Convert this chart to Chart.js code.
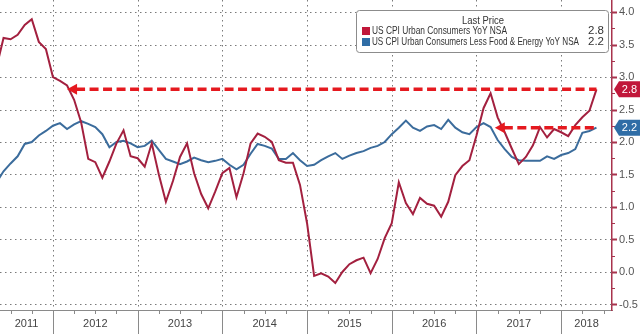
<!DOCTYPE html>
<html lang="en">
<head>
  <meta charset="UTF-8">
  <title>US CPI YoY</title>
  <script src="https://cdn.jsdelivr.net/npm/chart.js"></script>
  <style>
    html, body { margin: 0; padding: 0; background: #fff; }
    #wrap { width: 640px; height: 334px; position: relative; }
  </style>
</head>
<body>
  <div id="wrap"><canvas id="chart"></canvas></div>

  <script>
    // Series names as in the legend
    const seriesNames = ['US CPI Urban Consumers YoY NSA', 'US CPI Urban Consumers Less Food & Energy YoY NSA'];
    const legendTitle = 'Last Price';
    const yearLabels = ['2011', '2012', '2013', '2014', '2015', '2016', '2017', '2018'];

    // monthly values, Apr 2011 .. May 2018 (x = months since Jan 2011, month end)
    const firstMonth = 4;
    const cpiYoY = [
      3.15, 3.6, 3.58, 3.65, 3.8, 3.89, 3.54, 3.43, 3.0,
      2.94, 2.87, 2.65, 2.3, 1.74, 1.69, 1.45, 1.7, 1.98, 2.18, 1.78, 1.75,
      1.62, 1.98, 1.5, 1.08, 1.4, 1.77, 1.98, 1.52, 1.2, 0.98, 1.24, 1.52,
      1.6, 1.15, 1.52, 1.98, 2.13, 2.08, 2.0, 1.72, 1.68, 1.68, 1.34, 0.75,
      -0.06, -0.02, -0.07, -0.17, 0.0, 0.12, 0.18, 0.22, -0.02, 0.2, 0.52, 0.75,
      1.38, 1.06, 0.89, 1.14, 1.05, 1.02, 0.85, 1.08, 1.49, 1.63, 1.72, 2.1,
      2.52, 2.75, 2.38, 2.15, 1.9, 1.66, 1.77, 1.95, 2.23, 2.07, 2.2, 2.15,
      2.09, 2.26, 2.38, 2.48, 2.81
    ];
    const coreYoY = [
      1.38, 1.55, 1.67, 1.78, 1.97, 2.0, 2.1, 2.17, 2.25,
      2.29, 2.2, 2.27, 2.32, 2.28, 2.23, 2.12, 1.92, 2.0, 2.02, 1.98, 1.92,
      1.94, 2.02, 1.88, 1.74, 1.7, 1.66, 1.7, 1.76, 1.72, 1.69, 1.71, 1.74,
      1.65, 1.58, 1.65, 1.82, 1.97, 1.94, 1.9, 1.74, 1.74, 1.83, 1.72, 1.63,
      1.65, 1.72, 1.78, 1.83, 1.74, 1.79, 1.83, 1.86, 1.91, 1.94, 2.0, 2.12,
      2.22, 2.33, 2.22, 2.17, 2.24, 2.26, 2.2, 2.34, 2.22, 2.15, 2.12, 2.23,
      2.29, 2.23, 2.03, 1.89, 1.77, 1.72, 1.71, 1.71, 1.71, 1.78, 1.74, 1.8,
      1.83, 1.89, 2.14, 2.17, 2.22
    ];
    const yTicks = [-0.5, 0, 0.5, 1.0, 1.5, 2.0, 2.5, 3.0, 3.5, 4.0];
    // where the dashed arrows start (month index)
    const arrowStart = [14, 74.6];

    const RED = '#a3203f';
    const BLUE = '#3b6c9c';
    const ARROW = '#e5191f';
    const AXIS_RED = '#a8334d';
    const GRID = '#7a7a7a';
    const font = { family: "'Liberation Sans', Arial, sans-serif", size: 11 };

    const toPoints = arr => arr.map((v, i) => ({ x: firstMonth + i, y: v }));
    const lastOf = arr => arr[arr.length - 1];

    // x ticks: quarters, plus centred labels for the partial first/last years
    const xTicks = [];
    for (let m = 6; m <= 90; m += 3) xTicks.push(m);
    xTicks.push(8.25, 87.6);
    xTicks.sort((a, b) => a - b);

    function xLabel(v) {
      if (v === 8.25) return yearLabels[0];
      if (v === 87.6) return yearLabels[7];
      if (v % 12 === 6 && v >= 18 && v <= 78) return yearLabels[(v - 6) / 12];
      return '';
    }

    // y ticks every 0.25, labels only on the 0.5 steps
    const yAll = [];
    yTicks.forEach((t, i) => { yAll.push(t); if (i < yTicks.length - 1) yAll.push(t + 0.25); });
    const isMajor = v => yTicks.some(t => Math.abs(t - v) < 1e-6);

    const decor = {
      id: 'decor',
      beforeDatasetsDraw(chart) {
        // dotted grid: 0.5 steps across, year boundaries down
        const { ctx, chartArea: a, scales: { x, y } } = chart;
        ctx.save();
        ctx.strokeStyle = GRID;
        ctx.lineWidth = 1;
        ctx.setLineDash([1.5, 3.5]);
        yTicks.forEach(v => {
          const py = Math.round(y.getPixelForValue(v)) + 0.5;
          ctx.beginPath();
          ctx.moveTo(a.left, py);
          ctx.lineTo(a.right, py);
          ctx.stroke();
        });
        xTicks.forEach(v => {
          if (v % 12 !== 0) return;
          const px = Math.round(x.getPixelForValue(v)) + 0.5;
          ctx.beginPath();
          ctx.moveTo(px, a.top);
          ctx.lineTo(px, a.bottom);
          ctx.stroke();
        });
        ctx.restore();
      },
      afterDatasetsDraw(chart) {
        const { ctx, scales: { x, y } } = chart;
        const ends = [lastOf(cpiYoY), lastOf(coreYoY)];
        const xEnd = x.getPixelForValue(firstMonth + cpiYoY.length - 1);
        ctx.save();
        ends.forEach((val, i) => {
          const py = y.getPixelForValue(val);
          const px = x.getPixelForValue(arrowStart[i]);
          ctx.strokeStyle = ARROW;
          ctx.lineWidth = 3.5;
          ctx.setLineDash([9, 4.5]);
          ctx.beginPath();
          ctx.moveTo(px + 9, py);
          ctx.lineTo(xEnd, py);
          ctx.stroke();
          ctx.setLineDash([]);
          ctx.fillStyle = ARROW;
          ctx.beginPath();
          ctx.moveTo(px, py);
          ctx.lineTo(px + 10, py - 5.5);
          ctx.lineTo(px + 10, py + 5.5);
          ctx.closePath();
          ctx.fill();
        });
        ctx.restore();
      },
      afterDraw(chart) {
        const { ctx, chartArea: a, scales: { x, y } } = chart;
        ctx.save();

        // x tick marks
        ctx.strokeStyle = '#8a8a8a';
        ctx.lineWidth = 1;
        xTicks.forEach(v => {
          if (v % 3 !== 0) return;
          const px = Math.round(x.getPixelForValue(v)) + 0.5;
          ctx.beginPath();
          ctx.moveTo(px, a.bottom);
          ctx.lineTo(px, v % 12 === 0 ? chart.height : a.bottom + 4);
          ctx.stroke();
        });

        // y tick marks
        ctx.strokeStyle = AXIS_RED;
        yAll.forEach(v => {
          const py = Math.round(y.getPixelForValue(v)) + 0.5;
          const major = isMajor(v);
          ctx.lineWidth = major ? 2 : 1;
          ctx.beginPath();
          ctx.moveTo(a.right, py);
          ctx.lineTo(a.right + (major ? 5 : 3), py);
          ctx.stroke();
        });

        // last-value badges on the axis
        [[lastOf(cpiYoY), '#c1173a'], [lastOf(coreYoY), '#2f6da6']].forEach(([val, col]) => {
          const py = y.getPixelForValue(val);
          const l = a.right + 2, r = chart.width, h = 8;
          ctx.fillStyle = col;
          ctx.beginPath();
          ctx.moveTo(l, py);
          ctx.lineTo(l + 5, py - h);
          ctx.lineTo(r, py - h);
          ctx.lineTo(r, py + h);
          ctx.lineTo(l + 5, py + h);
          ctx.closePath();
          ctx.fill();
          ctx.fillStyle = '#fff';
          ctx.font = "11px 'Liberation Sans', Arial, sans-serif";
          ctx.textAlign = 'center';
          ctx.textBaseline = 'middle';
          ctx.fillText(val.toFixed(1), (l + 5 + r) / 2, py + 0.5);
        });

        // legend box
        const bx = 356, by = 10, bw = 252, bh = 42;
        ctx.fillStyle = '#fff';
        ctx.strokeStyle = '#8c8c8c';
        ctx.lineWidth = 1;
        ctx.beginPath();
        ctx.roundRect(bx + 0.5, by + 0.5, bw, bh, 3);
        ctx.fill();
        ctx.stroke();

        ctx.fillStyle = '#333';
        ctx.textBaseline = 'middle';
        ctx.textAlign = 'center';
        ctx.font = "11.5px 'Liberation Sans Narrow', 'Liberation Sans', Arial, sans-serif";
        ctx.fillText(legendTitle, 483, 21, 42);

        const rows = [[seriesNames[0], lastOf(cpiYoY), '#c1173a', 135], [seriesNames[1], lastOf(coreYoY), '#2f6da6', 207]];
        rows.forEach(([name, val, col, w], i) => {
          const ry = 31 + i * 11;
          ctx.fillStyle = col;
          ctx.fillRect(362, ry - 4, 8, 8);
          ctx.fillStyle = '#333';
          ctx.textAlign = 'left';
          ctx.fillText(name, 372, ry, w);
          ctx.textAlign = 'right';
          ctx.fillText(val.toFixed(1), 604, ry);
        });

        ctx.restore();
      }
    };

    new Chart(document.getElementById('chart'), {
      type: 'line',
      data: {
        datasets: [
          { label: seriesNames[0], data: toPoints(cpiYoY), borderColor: RED, borderWidth: 2, pointRadius: 0, tension: 0 },
          { label: seriesNames[1], data: toPoints(coreYoY), borderColor: BLUE, borderWidth: 2, pointRadius: 0, tension: 0 }
        ]
      },
      options: {
        responsive: true,
        maintainAspectRatio: false,
        animation: false,
        layout: { padding: 0, autoPadding: false },
        plugins: { legend: { display: false }, tooltip: { enabled: false } },
        scales: {
          x: {
            type: 'linear',
            min: 4.5,
            max: 91.2,
            afterBuildTicks: s => { s.ticks = xTicks.map(v => ({ value: v })); },
            afterFit: s => { s.height = 24; s.paddingLeft = 0; s.paddingRight = 0; s.paddingTop = 0; s.paddingBottom = 0; },
            ticks: { autoSkip: false, maxRotation: 0, padding: 7, color: '#444', font: { family: "'Liberation Sans Narrow', 'Liberation Sans', Arial, sans-serif", size: 11 }, callback: v => xLabel(v) },
            grid: { display: false, drawTicks: false },
            border: { display: true, color: '#8a8a8a', width: 1 }
          },
          y: {
            position: 'right',
            min: -0.585,
            max: 4.185,
            afterBuildTicks: s => { s.ticks = yAll.map(v => ({ value: v })); },
            afterFit: s => { s.width = 28; s.paddingLeft = 0; s.paddingRight = 0; s.paddingTop = 0; s.paddingBottom = 0; },
            ticks: { autoSkip: false, padding: 7, color: '#555', font, callback: v => (isMajor(v) ? v.toFixed(1) : '') },
            grid: { display: false, drawTicks: false },
            border: { display: true, color: AXIS_RED, width: 1.5 }
          }
        }
      },
      plugins: [decor]
    });
  </script>
</body>
</html>
